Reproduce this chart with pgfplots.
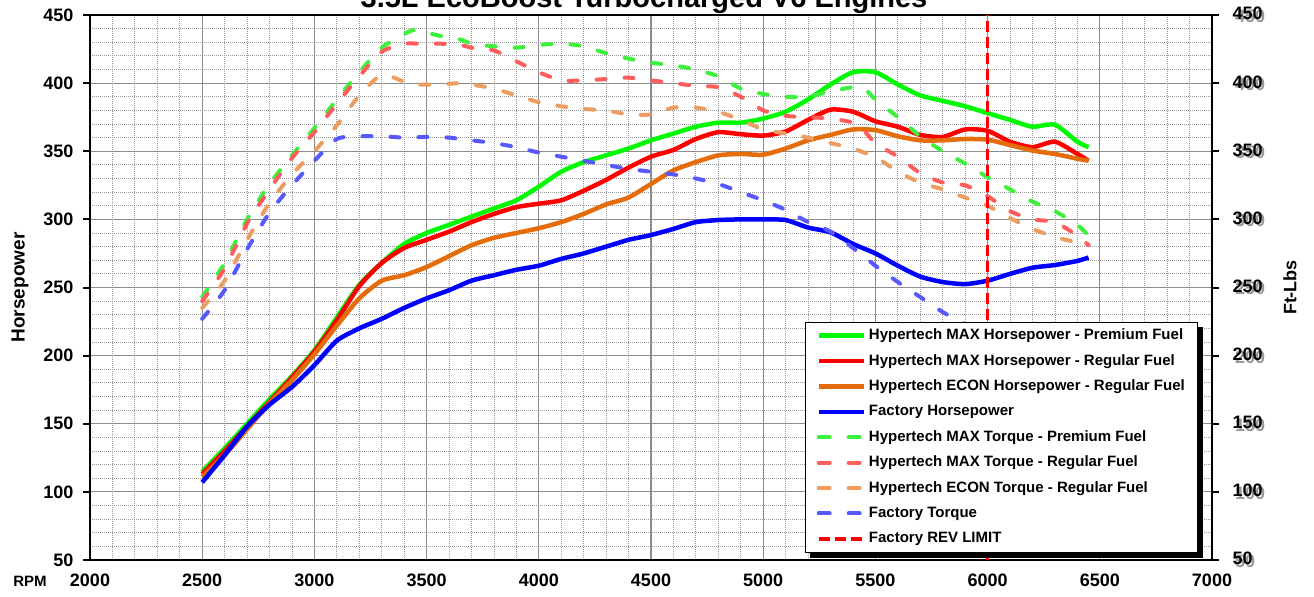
\documentclass[border=0pt]{standalone}
\usepackage{pgfplots}
\pgfplotsset{compat=1.18}
\usepackage{fontspec}
\setmainfont{Liberation Sans}

\definecolor{hpgreen}{RGB}{0,250,0}
\definecolor{hpred}{RGB}{255,0,0}
\definecolor{hporange}{RGB}{228,108,10}
\definecolor{hpblue}{RGB}{0,0,255}
\definecolor{tqgreen}{RGB}{60,240,60}
\definecolor{tqred}{RGB}{255,92,92}
\definecolor{tqorange}{RGB}{236,158,98}
\definecolor{tqblue}{RGB}{88,88,255}

\newcommand{\shadowed}[1]{\makebox[0pt][l]{\hspace{2.5pt}\raisebox{-2.5pt}{\textcolor{black!40}{#1}}}#1}

\pgfplotstableread{
rpm gh rh oh bh
2500 115 113 111 107
2600 132 130 127 127
2700 150 148 146 148
2800 168 166 165 164
2900 185 184 182 177
3000 204 203 201 193
3100 228 226 222 211
3200 252 251 242 220
3300 268 268 255 227
3400 282 279 259 235
3500 290 285 265 242
3600 296 291 273 248
3700 302 298 281 255
3800 308 304 286.5 259
3900 314 309 290 263
4000 324 311.5 293.5 266
4100 335 314 298 271
4200 342 321 304 275
4300 347 329 311 280
4400 352 338 316 285
4500 358 346 326 288.5
4600 363 351 336 293
4700 368 359 342 298
4800 371 364 347 299.5
4900 371 362.5 348 300
5000 374 361.5 347.5 300
5100 379 364.5 352 299.5
5200 388 373 358 294
5300 399 380.5 362 290.5
5400 408 379 366 282
5500 408 372 365.5 275
5600 399 368 361 266
5700 391 362 358 258
5800 387 360.5 358 254
5900 383 366 359 252.5
6000 378 365 358.5 255
6100 373 357 354.5 260
6200 368 353 350.5 264.5
6300 369.5 357 348 266.5
6400 357 348 344.5 269.5
6450 353 343 343 272
}\hptable

\pgfplotstableread{
rpm gt rt ot
2500 243 240 235
2600 268 264 255
2700 300 297 285
2800 326 322 312
2900 347 345 333
3000 367 364 350
3100 388 385 369
3200 408 405 391
3300 426 423 406
3400 436 429 401
3450 439 429 399
3550 435 429 399
3650 432 428 400
3700 429 426 399
3800 427 424 396
3900 426 416 391
4000 428 408 386
4100 429 402 383
4200 427 402 381
4300 422 403 380
4400 418 404 377
4500 415 402 377
4600 413 400 382
4700 410 398 382
4800 405 397 379
4900 396 390 373
5000 392 380 366
5100 390 376 363
5200 390 375 360
5300 394 374 356
5400 397 371 352
5450 396 365 349
5500 388 356 346
5600 375 346 335
5700 361 334 327
5800 350 327 322
5900 341 325 316
6000 331 317 310
6100 322 306 301
6200 313 300 293
6300 306 298 287
6400 296 288 283
6450 288 281 280
}\tqtable

\pgfplotstableread{
rpm bt
2500 227
2600 248
2700 278
2800 305
2900 325
3000 343
3100 359
3200 361
3300 361
3400 360
3500 360.5
3600 360
3700 358
3800 356
3900 353
4000 349
4100 346
4200 343
4300 340
4400 337
4500 335
4600 333
4700 330
4800 326
4900 320
5000 314
5100 307
5200 298
5300 291
5400 279
5500 266
5600 254
5700 243
5800 232
5900 223
}\btable

\begin{document}
\begin{tikzpicture}
\begin{axis}[
  scale only axis, width=1122pt, height=545pt,
  xmin=2000, xmax=7000, ymin=50, ymax=450,
  xtick={2000,2500,...,7000}, ytick={50,100,...,450},
  minor x tick num=4, minor y tick num=4,
  grid=both,
  major grid style={draw=black!45, line width=1.2pt},
  minor grid style={draw=black!40, line width=0.8pt, dash pattern=on 1pt off 1pt},
  axis line style={line width=2.5pt, black},
  tick align=outside, ytick pos=left, major tick length=7pt, minor tick length=0pt,
  xtick style={draw=none},
  ytick style={line width=2pt, black},
  ticklabel style={font=\fontsize{18}{20}\selectfont\bfseries},
  yticklabel style={xshift=-6pt},
  xticklabel style={yshift=-3pt},
  /pgf/number format/assume math mode=true,
  /pgf/number format/1000 sep={},
  legend cell align=left,
  legend style={name=leg, at={(axis cs:5186,224.7)}, anchor=north west, draw=black, line width=1pt, fill=white,
    font=\fontsize{15}{17}\selectfont\bfseries,
    nodes={text height=11pt, text depth=3pt, inner ysep=5.7pt},
    /tikz/every odd column/.append style={column sep=1pt},
    inner xsep=11pt, inner ysep=0.5pt},
  legend image code/.code={\draw[#1] (0pt,0pt) -- (45pt,0pt);},
  every axis plot/.append style={line join=round},
  tq/.style={line width=4pt, line cap=round, dash pattern=on 9pt off 19pt, smooth, tension=0.4,
    legend image post style={dash pattern=on 11pt off 19pt}},
]
\addplot[hpgreen, line width=4.5pt, smooth, tension=0.4] table[x=rpm,y=gh]{\hptable};
\addlegendentry{Hypertech MAX Horsepower - Premium Fuel}
\addplot[hpred, line width=4.5pt, smooth, tension=0.4] table[x=rpm,y=rh]{\hptable};
\addlegendentry{Hypertech MAX Horsepower - Regular Fuel}
\addplot[hporange, line width=4.5pt, smooth, tension=0.4] table[x=rpm,y=oh]{\hptable};
\addlegendentry{Hypertech ECON Horsepower - Regular Fuel}
\addplot[hpblue, line width=4.5pt, smooth, tension=0.4] table[x=rpm,y=bh]{\hptable};
\addlegendentry{Factory Horsepower}
\addplot[tqgreen, tq] table[x=rpm,y=gt]{\tqtable};
\addlegendentry{Hypertech MAX Torque - Premium Fuel}
\addplot[tqred, tq] table[x=rpm,y=rt]{\tqtable};
\addlegendentry{Hypertech MAX Torque - Regular Fuel}
\addplot[tqorange, tq] table[x=rpm,y=ot]{\tqtable};
\addlegendentry{Hypertech ECON Torque - Regular Fuel}
\addplot[tqblue, tq] table[x=rpm,y=bt]{\btable};
\addlegendentry{Factory Torque}
\addplot[red, line width=3.5pt, dash pattern=on 11pt off 5pt] coordinates {(6000,50) (6000,450)};
\addlegendentry{Factory REV LIMIT}
\end{axis}
\fill[black] ([yshift=-5pt]leg.north east) rectangle ([xshift=5pt,yshift=-5pt]leg.south east);
\fill[black] ([xshift=5pt]leg.south west) rectangle ([xshift=5pt,yshift=-5pt]leg.south east);
\begin{axis}[
  scale only axis, width=1122pt, height=545pt,
  xmin=2000, xmax=7000, ymin=50, ymax=450,
  axis x line=none, axis y line*=right,
  ytick={50,100,...,450},
  axis line style={line width=2.5pt, black},
  tick align=outside, major tick length=7pt,
  ytick style={line width=2pt, black},
  yticklabel style={font=\fontsize{18}{20}\selectfont\bfseries, xshift=10pt},
  yticklabel={\shadowed{\pgfmathprintnumber{\tick}}},
  /pgf/number format/assume math mode=true,
]
\end{axis}
\node[font=\fontsize{29}{32}\selectfont\bfseries, anchor=base] at ([xshift=-7pt, yshift=7pt]current axis.north) {3.5L EcoBoost Turbocharged V6 Engines};
\node[font=\fontsize{19}{21}\selectfont\bfseries, rotate=90] at ([xshift=-70pt]current axis.west) {Horsepower};
\node[font=\fontsize{18}{20}\selectfont\bfseries, rotate=90] at ([xshift=78pt]current axis.east) {Ft-Lbs};
\node[font=\fontsize{15}{17}\selectfont\bfseries] at ([xshift=-60pt, yshift=-21pt]current axis.south west) {RPM};
\pgfresetboundingbox
\path ([xshift=-90pt,yshift=-36pt]current axis.south west) rectangle ([xshift=102pt,yshift=15pt]current axis.north east);
\end{tikzpicture}
\end{document}
